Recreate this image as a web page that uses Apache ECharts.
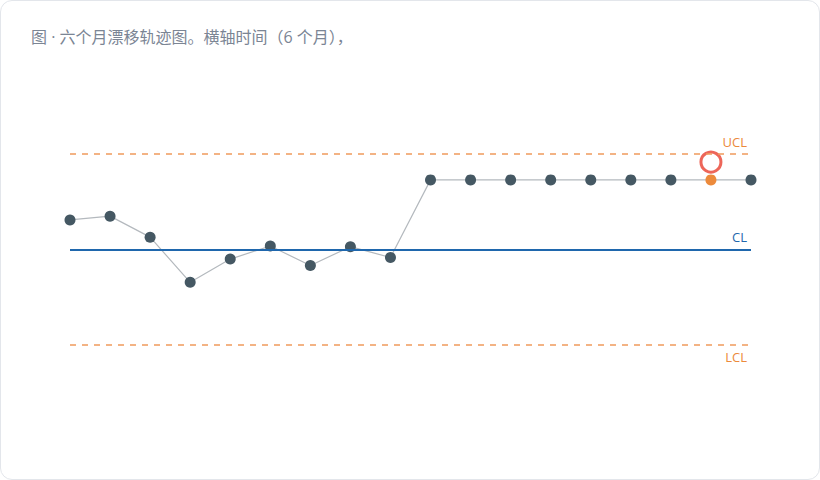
<!DOCTYPE html>
<html><head><meta charset="utf-8">
<script src="https://cdn.jsdelivr.net/npm/echarts@6/dist/echarts.min.js"></script>
<style>
html,body{margin:0;padding:0;background:#fff;}
#wrap{position:absolute;left:0;top:0;width:818px;height:478px;border:1px solid #e3e6eb;border-radius:12px;background:#fff;overflow:hidden;}
#c{width:818px;height:478px;}
</style></head>
<body><div id="wrap"><div id="c"></div></div>
<script>
const titleText = '图 · 六个月漂移轨迹图。横轴时间（6 个月），';
const categories = ['1','2','3','4','5','6','7','8','9','10','11','12','13','14','15','16','17','18'];
const values = [0.93, 1.05, 0.39, -1.03, -0.30, 0.11, -0.50, 0.09, -0.25, 2.19, 2.19, 2.19, 2.19, 2.19, 2.19, 2.19, 2.19, 2.19];
const CL = 0, UCL = 3, LCL = -3;
const flaggedIndex = 16;
const annotationValue = 2.75;

const chart = echarts.init(document.getElementById('c'), null, {renderer:'svg'});
const pointData = values.map((v,i)=> i===flaggedIndex ? {value:v, itemStyle:{color:'#ec8a3b'}} : v);
const annData = categories.map((c,i)=> i===flaggedIndex ? annotationValue : null);
chart.setOption({
  animation:false,
  title:{text:titleText,left:25,top:23,textStyle:{fontFamily:'"Open Sans", "Noto Sans CJK SC"',fontSize:16,fontWeight:'normal',color:'#7b8594'}},
  grid:{left:69,right:68,top:121.3,bottom:102.2,containLabel:false},
  xAxis:{type:'category',data:categories,boundaryGap:false,show:false},
  yAxis:{type:'value',min:-4,max:4,show:false},
  series:[
    {type:'line',data:pointData,symbol:'circle',symbolSize:11,
     lineStyle:{color:'#b4b9be',width:1.2},itemStyle:{color:'#455863'},z:3,
     markLine:{silent:true,symbol:'none',
       data:[
         {yAxis:UCL,lineStyle:{color:'#f09a5c',type:[6,6],width:1.6},label:{formatter:'UCL',position:'insideEndTop',color:'#ec8a3b',fontSize:13,fontFamily:'Open Sans',distance:[4,6]}},
         {yAxis:CL,lineStyle:{color:'#1f67ad',type:'solid',width:2},label:{formatter:'CL',position:'insideEndTop',color:'#1f67ad',fontSize:13,fontFamily:'Open Sans',distance:[4,6]}},
         {yAxis:LCL,lineStyle:{color:'#f09a5c',type:[6,6],width:1.6},label:{formatter:'LCL',position:'insideEndBottom',color:'#ec8a3b',fontSize:13,fontFamily:'Open Sans',distance:[4,6]}}
       ]}
    },
    {type:'scatter',data:annData,symbol:'circle',symbolSize:20,
     itemStyle:{color:'rgba(0,0,0,0)',borderColor:'#e8402f',borderWidth:3},z:4}
  ]
});
</script></body></html>
